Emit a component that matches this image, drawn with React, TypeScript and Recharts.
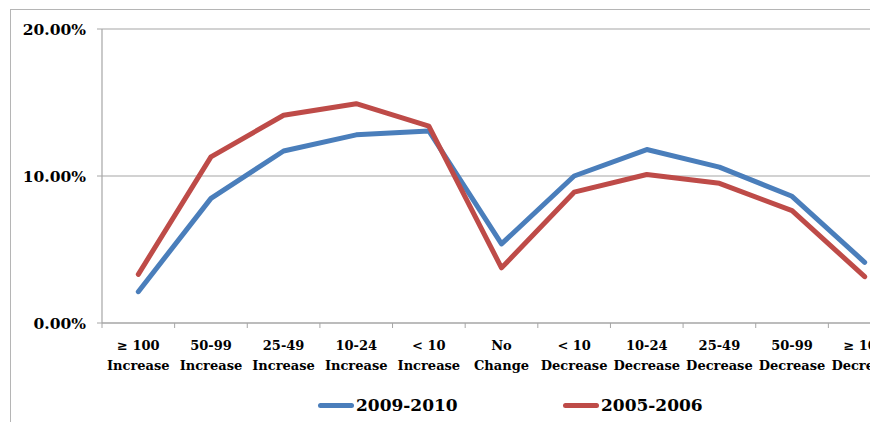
import { LineChart, Line, XAxis, YAxis, CartesianGrid, Legend } from "recharts"

// category labels (two lines each, split on \n)
const categories = [
  "≥ 100\nIncrease",
  "50-99\nIncrease",
  "25-49\nIncrease",
  "10-24\nIncrease",
  "< 10\nIncrease",
  "No\nChange",
  "< 10\nDecrease",
  "10-24\nDecrease",
  "25-49\nDecrease",
  "50-99\nDecrease",
  "≥ 100\nDecrease",
]

// percent of total
const values2009 = [2.13, 8.48, 11.7, 12.8, 13.06, 5.38, 10.0, 11.8, 10.6, 8.62, 4.13]
const values2005 = [3.31, 11.3, 14.13, 14.92, 13.4, 3.75, 8.9, 10.1, 9.5, 7.65, 3.15]

const seriesNames = ["2009-2010", "2005-2006"]
const yTicks = [0, 10, 20]

const data = categories.map((name, i) => ({
  name,
  "2009-2010": values2009[i],
  "2005-2006": values2005[i],
}))

const CHART_W = 903
const CHART_H = 414
const MARGIN = { top: 21, right: 10, left: 0, bottom: 19 }
const YAXIS_W = 94
const HALF_BAND = (CHART_W - MARGIN.left - MARGIN.right - YAXIS_W) / categories.length / 2

const FONT = '"DejaVu Serif", "Liberation Serif", serif'
const GRID = "#a6a6a6"

function CategoryTick({ x, y, payload }: any) {
  const [top, bottom] = String(payload.value).split("\n")
  return (
    <g>
      <line x1={x - HALF_BAND} x2={x - HALF_BAND} y1={y - 5} y2={y} stroke={GRID} strokeWidth={1} />
      <text x={x} y={y} textAnchor="middle" fontFamily={FONT} fontWeight="bold" fontSize={13} fill="#000">
        <tspan x={x} dy={22}>{top}</tspan>
        <tspan x={x} dy={19.5}>{bottom}</tspan>
      </text>
    </g>
  )
}

function LegendContent({ payload }: any) {
  // keep the series order, not the alphabetical one
  const items = [...(payload || [])].sort(
    (a: any, b: any) => seriesNames.indexOf(a.value) - seriesNames.indexOf(b.value)
  )
  return (
    <div style={{ display: "flex" }}>
      {items.map((item: any) => (
        <div key={item.value} style={{ width: 245, display: "flex", alignItems: "center" }}>
          <span
            style={{
              display: "inline-block",
              width: 36,
              height: 5,
              borderRadius: 3,
              background: item.color,
              marginRight: 2,
            }}
          />
          <span style={{ fontFamily: FONT, fontWeight: "bold", fontSize: 17, color: "#000" }}>
            {item.value}
          </span>
        </div>
      ))}
    </div>
  )
}

export default function App() {
  return (
    <div style={{ position: "relative", width: 862, height: 414, overflow: "hidden", background: "#fff" }}>
      <div
        style={{
          position: "absolute",
          left: 2,
          top: 1,
          width: 1200,
          height: 1200,
          border: "1px solid #b5b5b5",
        }}
      />
      <div style={{ position: "absolute", left: 0, top: 0 }}>
        <LineChart width={CHART_W} height={CHART_H} data={data} margin={MARGIN}>
          <CartesianGrid vertical={false} stroke={GRID} strokeWidth={1.2} />
          <XAxis
            dataKey="name"
            scale="band"
            interval={0}
            height={50}
            tickSize={5}
            tickMargin={0}
            tickLine={false}
            axisLine={{ stroke: GRID, strokeWidth: 1.2 }}
            tick={<CategoryTick />}
          />
          <YAxis
            width={YAXIS_W}
            domain={[0, 20]}
            ticks={yTicks}
            tickSize={5}
            tickMargin={11}
            tickLine={{ stroke: GRID }}
            axisLine={{ stroke: GRID, strokeWidth: 1.2 }}
            tickFormatter={(v) => `${Number(v).toFixed(2)}%`}
            tick={{ fontFamily: FONT, fontWeight: "bold", fontSize: 15.5, fill: "#000" }}
          />
          <Legend
            height={30}
            content={<LegendContent />}
            wrapperStyle={{ left: 310, top: 387, bottom: "auto", width: 500, height: 30 }}
          />
          <Line
            dataKey="2009-2010"
            stroke="#4a7ebb"
            strokeWidth={5}
            strokeLinecap="round"
            strokeLinejoin="round"
            dot={false}
            isAnimationActive={false}
          />
          <Line
            dataKey="2005-2006"
            stroke="#be4b48"
            strokeWidth={5}
            strokeLinecap="round"
            strokeLinejoin="round"
            dot={false}
            isAnimationActive={false}
          />
        </LineChart>
      </div>
    </div>
  )
}
